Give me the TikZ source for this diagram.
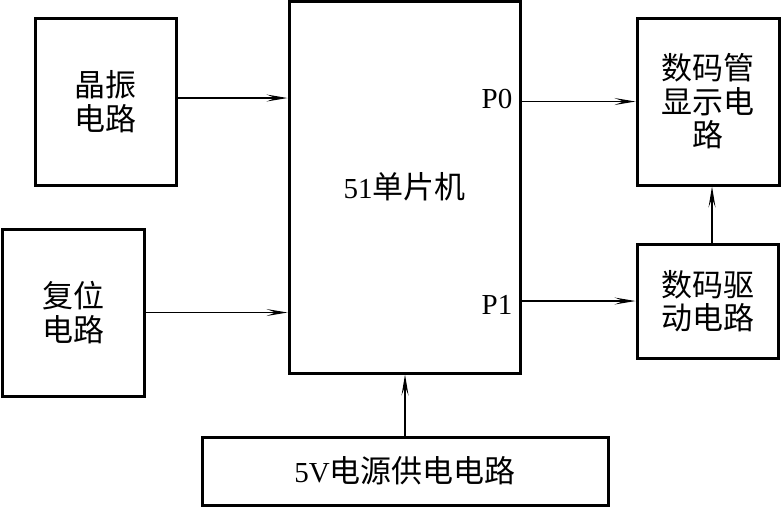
\documentclass[tikz,border=0pt]{standalone}
\usepackage{fontspec}
\setmainfont{Liberation Serif}
\newfontfamily\cjk{Noto Sans CJK SC}
\newcommand\latn{\fontsize{29}{33}\selectfont\rmfamily}
\usetikzlibrary{arrows.meta}
\begin{document}
\begin{tikzpicture}[x=1pt,y=-1pt,
  box/.style={draw,line width=3pt,inner sep=0pt,align=center,
    font=\fontsize{31}{33.5}\selectfont\cjk},
  lbl/.style={inner sep=0pt,font=\latn},
  conn/.style={line width=1.1pt,-{Stealth[length=21pt,width=7pt,inset=9pt]}}]
\useasboundingbox (0,0) rectangle (781,507);
\node[box,minimum width=141pt,minimum height=167pt] (osc) at (105.5,101.5) {晶振\\电路};
\node[box,minimum width=142pt,minimum height=167pt] (rst) at (73,312.5) {复位\\电路};
\node[box,minimum width=231pt,minimum height=372pt] (mcu) at (404.5,187) {{\latn 51}单片机};
\node[box,minimum width=142pt,minimum height=167pt] (disp) at (708,101.5) {数码管\\显示电\\路};
\node[box,minimum width=141pt,minimum height=114pt] (drv) at (707.5,301) {数码驱\\动电路};
\node[box,minimum width=406pt,minimum height=68pt] (pwr) at (405,471) {{\latn 5V}电源供电电路};
\node[lbl] (p0) at (497,99) {P0};
\node[lbl] (p1) at (497,305) {P1};
\draw[conn] ([yshift=3.5pt]osc.east) -- ([yshift=3.5pt]osc.east -| mcu.west);
\draw[conn] (rst.east) -- (rst.east -| mcu.west);
\draw[conn] (mcu.east |- disp.west) -- (disp.west);
\draw[conn] (mcu.east |- drv.west) -- (drv.west);
\draw[conn] ([xshift=4.5pt]drv.north) -- ([xshift=4.5pt]drv.north |- disp.south);
\draw[conn] (pwr.north) -- (pwr.north |- mcu.south);
\end{tikzpicture}
\end{document}
